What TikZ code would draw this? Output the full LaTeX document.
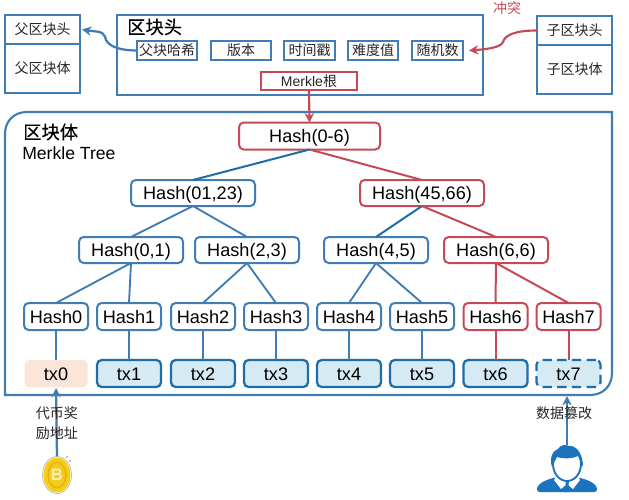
\documentclass[tikz,border=0pt]{standalone}
\usepackage{fontspec}
\setmainfont{Liberation Sans}
\newfontfamily\cjk{Noto Sans CJK SC}
\newfontfamily\cjkb[FakeBold=0.3]{Noto Sans CJK SC}
\usetikzlibrary{arrows.meta}
\definecolor{bl}{HTML}{3F7DB4}
\definecolor{bd}{HTML}{1F6DA6}
\definecolor{rd}{HTML}{C64A55}
\definecolor{txf}{HTML}{D6EAF3}
\definecolor{orf}{HTML}{FBE4D8}
\definecolor{man}{HTML}{1A73BF}
\definecolor{coina}{HTML}{F4CE14}
\definecolor{coinb}{HTML}{E3B40E}
\definecolor{coinc}{HTML}{F2CB1E}
\definecolor{coind}{HTML}{FBF0B0}
\tikzset{
  sz/.style 2 args={minimum width=#1*0.75pt,minimum height=#2*0.75pt,inner sep=0pt,outer sep=0pt},
  sq/.style={draw=bl,line width=1.6pt,fill=white,font=\cjk\fontsize{10.5}{12}\selectfont,text=black!85},
  hashb/.style={draw=bl,line width=1.5pt,rounded corners=3.5pt,fill=white,font=\fontsize{13.6}{15}\selectfont,text height=10pt,text depth=0pt},
  hashr/.style={hashb,draw=rd},
  txb/.style={hashb,draw=bd,line width=1.7pt,fill=txf},
  lab/.style={font=\cjk\fontsize{10.5}{15}\selectfont,text=black!85,align=center,inner sep=0pt},
  eb/.style={draw=bl,line width=1.4pt},
  ebd/.style={draw=bd,line width=1.5pt},
  er/.style={draw=rd,line width=1.5pt},
  arb/.style={draw=bl,line width=1.7pt,-{Stealth[length=7pt,width=7pt]}},
  arr/.style={draw=rd,line width=1.6pt,-{Stealth[length=7pt,width=7pt]}},
}
\begin{document}
\begin{tikzpicture}[x=0.75pt,y=-0.75pt]
\useasboundingbox (0,0) rectangle (629,500);
\fill[white] (0,0) rectangle (629,500);
% body frame
\draw[bl,line width=1.6pt] (5,395) -- (5,134) .. controls (5,121) and (14,112) .. (27,112) -- (612,112) -- (612,373) .. controls (612,386) and (603,395) .. (590,395) -- cycle;
% parent block
\node[sq,sz={75}{29}] (ph) at (42.5,29.5) {父区块头};
\node[sq,sz={75}{49}] (pb) at (42.5,68.5) {父区块体};
% child block
\node[sq,sz={75}{29}] (ch) at (574.5,30.5) {子区块头};
\node[sq,sz={75}{49}] (cb) at (574.5,69.5) {子区块体};
% header
\node[draw=bl,line width=1.6pt,sz={366}{80}] (head) at (300,55) {};
\node[anchor=west,inner sep=0pt,font=\cjkb\fontsize{13.7}{15}\selectfont] (headt) at (127,27) {区块头};
\node[sq,sz={60}{19}] (f1) at (167,50.5) {父块哈希};
\node[sq,sz={60}{19}] (f2) at (241,50.5) {版本};
\node[sq,sz={51}{19}] (f3) at (309.5,50.5) {时间戳};
\node[sq,sz={50}{19}] (f4) at (373,50.5) {难度值};
\node[sq,sz={51}{19}] (f5) at (437.5,50.5) {随机数};
\node[sq,draw=rd,sz={96}{18},font=\fontsize{10.5}{12}\selectfont] (mr) at (309,81) {Merkle{\cjk 根}};
\node[inner sep=0pt,font=\cjk\fontsize{10.5}{12}\selectfont,text=rd] (ct) at (507,8) {冲突};
% body titles
\node[anchor=west,inner sep=0pt,font=\cjkb\fontsize{13.7}{15}\selectfont] (bt) at (23,132) {区块体};
\node[anchor=west,inner sep=0pt,font=\fontsize{13.2}{15}\selectfont] (mt) at (22,153) {Merkle Tree};
% hash tree
\node[hashr,sz={141}{27}] (h06) at (309.5,136) {Hash(0-6)};
\node[hashb,sz={124}{26}] (h0123) at (193,193) {Hash(01,23)};
\node[hashr,sz={124}{26}] (h4566) at (422,193) {Hash(45,66)};
\node[hashb,sz={104}{26}] (h01) at (131,250) {Hash(0,1)};
\node[hashb,sz={104}{26}] (h23) at (247,250) {Hash(2,3)};
\node[hashb,sz={104}{26}] (h45) at (376,250) {Hash(4,5)};
\node[hashr,sz={104}{26}] (h66) at (496,250) {Hash(6,6)};
\node[hashb,sz={64}{27}] (h0) at (56,316.5) {Hash0};
\node[hashb,sz={64}{27}] (h1) at (129,316.5) {Hash1};
\node[hashb,sz={64}{27}] (h2) at (203,316.5) {Hash2};
\node[hashb,sz={64}{27}] (h3) at (276,316.5) {Hash3};
\node[hashb,sz={64}{27}] (h4) at (349,316.5) {Hash4};
\node[hashb,sz={64}{27}] (h5) at (422,316.5) {Hash5};
\node[hashr,sz={64}{27}] (h6) at (495.5,316.5) {Hash6};
\node[hashr,sz={64}{27}] (h7) at (568.5,316.5) {Hash7};
\node[hashb,draw=none,fill=orf,sz={63}{27}] (t0) at (56,373.5) {tx0};
\node[txb,sz={64}{27}] (t1) at (129,373.5) {tx1};
\node[txb,sz={64}{27}] (t2) at (203,373.5) {tx2};
\node[txb,sz={64}{27}] (t3) at (276,373.5) {tx3};
\node[txb,sz={64}{27}] (t4) at (349,373.5) {tx4};
\node[txb,sz={64}{27}] (t5) at (422,373.5) {tx5};
\node[txb,sz={64}{27}] (t6) at (495.5,373.5) {tx6};
\node[txb,dashed,dash pattern=on 7pt off 4pt,sz={64}{27}] (t7) at (568.5,373.5) {tx7};
% edges
\draw[ebd] (h06.south) -- (h0123.north);
\draw[er] (h06.south) -- (h4566.north);
\draw[eb] (h0123.south) -- (h01.north);
\draw[eb] (h0123.south) -- (h23.north);
\draw[ebd] (h4566.south) -- (h45.north);
\draw[er] (h4566.south) -- (h66.north);
\draw[eb] (h01.south) -- (h0.north);
\draw[eb] (h01.south) -- (h1.north);
\draw[eb] (h23.south) -- (h2.north);
\draw[eb] (h23.south) -- (h3.north);
\draw[eb] (h45.south) -- (h4.north);
\draw[eb] (h45.south) -- (h5.north);
\draw[er] (h66.south) -- (h6.north);
\draw[er] (h66.south) -- (h7.north);
\foreach \a/\b in {h0/t0,h1/t1,h2/t2,h3/t3,h4/t4,h5/t5}{\draw[eb] (\a.south) -- (\b.north);}
\draw[er] (h6.south) -- (t6.north);
\draw[er] (h7.south) -- (t7.north);
\draw[arr] (mr.south) -- (h06.north);
% curved arrows
\draw[arb] (f1.west) .. controls +(-19,0) and +(1,9) .. ([xshift=-32*0.75pt,yshift=14*0.75pt]f1.west) coordinate (pm) .. controls +(-2,-6) and +(11,2) .. ([xshift=1.5pt]ph.east);
\draw[arr] (ch.west) .. controls +(-22,0) and +(2,-7) .. ([xshift=40*0.75pt,yshift=8.5*0.75pt]f5.east) coordinate (cm) .. controls +(-2,6) and +(14,-1) .. ([xshift=6*0.75pt]f5.east);
% lower icons
\coordinate (coin) at (57,475);
\coordinate (mantop) at (567,445);
\draw[arb] ([yshift=18*0.75pt]coin) -- ([yshift=-1*0.75pt]t0.south);
\draw[arb] (mantop) -- (567,396);
\node[lab] (l1) at (57,423.5) {代币奖\\励地址};
\node[lab] (l2) at (564,413) {数据篡改};
% coin
\fill[white,draw=black!35,line width=.4pt] (coin) ellipse [x radius=14.5,y radius=18.5];
\fill[coina] (coin) ellipse [x radius=13.5,y radius=17.5];
\fill[coinb] (coin) ellipse [x radius=9.5,y radius=13.5];
\fill[coinc] (coin) ellipse [x radius=8,y radius=12];
\node[inner sep=0pt,font=\bfseries\fontsize{12.5}{13}\selectfont,text=coind] (b) at (coin) {B};
\fill[black!50] (67,457) circle (.8) (70,461) circle (.8);
% person
\fill[man,rounded corners=2pt] (537,492) .. controls (537,483) and (548,479) .. (558,477) -- (575,477) .. controls (586,479) and (597,483) .. (597,492) -- cycle;
\fill[white] (558,474) -- (567,483) -- (576,474) -- (580,480) -- (573,489) -- (567,484) -- (561,489) -- (554,480) -- cycle;
\fill[man] (566,480) -- (569,480) -- (568,492) -- (565,492) -- cycle;
\draw[man,line width=1.4pt,fill=white] (567,464) ellipse [x radius=14,y radius=17];
\fill[man] (552,467) .. controls (549,458) and (553,450) .. (558,449) .. controls (560,445) and (566,444) .. (569,446) .. controls (575,445) and (583,452) .. (583,467) .. controls (581,462) and (580,459) .. (578,456) .. controls (572,459) and (563,459) .. (557,457) .. controls (555,460) and (554,463) .. (552,467) -- cycle;
\end{tikzpicture}
\end{document}
